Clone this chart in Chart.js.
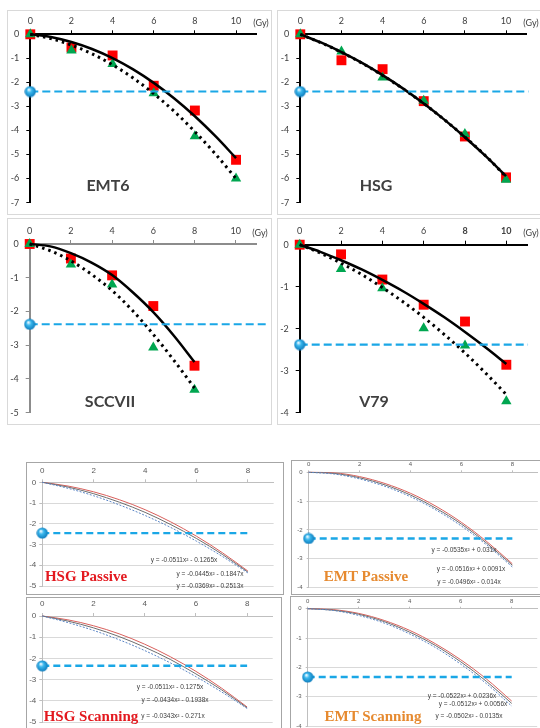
<!DOCTYPE html>
<html>
<head>
<meta charset="utf-8">
<script src="https://cdn.jsdelivr.net/npm/chart.js@4.4.0/dist/chart.umd.min.js"></script>
<style>
  body { margin: 0; background: #fff; width: 540px; height: 728px; position: relative; overflow: hidden; }
  .frame { position: absolute; border: 1px solid #d9d9d9; box-sizing: border-box; }
  canvas { position: absolute; }
  .lbl { position: absolute; white-space: nowrap; transform: translate(-50%, -50%); }
  .name { font: bold 16px Lato, sans-serif; color: #404040; }
  .gy { font: 9px Lato, sans-serif; color: #404040; }
  .title { font: bold 15px "Liberation Serif", serif; }
  .eq { font: 6.5px "Liberation Sans", sans-serif; color: #404040; }
</style>
</head>
<body>
<script>
// top panels: ln(survival) vs dose (Gy)
var dose = [0, 2, 4, 6, 8, 10];
var doseFit = [0, 1, 2, 3, 4, 5, 6, 7, 8, 9, 10];
var emt6Sq = [0, -0.55, -0.88, -2.14, -3.17, -5.22];
var emt6Tri = [0, -0.67, -1.24, -2.45, -4.24, -6.0];
var emt6FitSq = [0, -0.11, -0.32, -0.61, -0.99, -1.46, -2.02, -2.67, -3.41, -4.24, -5.15];
var emt6FitTri = [0, -0.18, -0.45, -0.81, -1.27, -1.82, -2.47, -3.21, -4.05, -4.98, -6.0];

var hsgSq = [0, -1.08, -1.45, -2.78, -4.25, -5.95];
var hsgTri = [0, -0.72, -1.8, -2.76, -4.15, -6.05];
var hsgFitSq = [0, -0.34, -0.74, -1.19, -1.7, -2.26, -2.88, -3.55, -4.28, -5.06, -5.9];
var hsgFitTri = [0, -0.35, -0.75, -1.2, -1.71, -2.27, -2.88, -3.55, -4.27, -5.05, -5.92];

var sccDose = [0, 2, 4, 6, 8];
var sccDoseFit = [0, 1, 2, 3, 4, 5, 6, 7, 8];
var sccSq = [0, -0.43, -0.93, -1.84, -3.61];
var sccTri = [0, -0.61, -1.2, -3.07, -4.32];
var sccFitSq = [0, -0.07, -0.27, -0.55, -0.92, -1.43, -2.02, -2.72, -3.5];
var sccFitTri = [0, -0.2, -0.5, -0.9, -1.38, -1.98, -2.68, -3.45, -4.27];

var v79Sq = [0, -0.23, -0.83, -1.43, -1.83, -2.86];
var v79Tri = [0, -0.58, -1.04, -1.99, -2.4, -3.73];
var v79FitSq = [0, -0.17, -0.37, -0.59, -0.84, -1.11, -1.41, -1.73, -2.08, -2.45, -2.84];
var v79FitTri = [0, -0.2, -0.44, -0.71, -1.02, -1.36, -1.73, -2.14, -2.58, -3.06, -3.57];

var isoLevel = -2.38;

// bottom panels: fitted curves 0..8
var depth = [0, 1, 2, 3, 4, 5, 6, 7, 8];
var hsgPasRed = [0, -0.18, -0.46, -0.84, -1.32, -1.91, -2.6, -3.39, -4.28];
var hsgPasGrey = [0, -0.23, -0.55, -0.96, -1.45, -2.04, -2.71, -3.47, -4.33];
var hsgPasBlue = [0, -0.29, -0.65, -1.09, -1.6, -2.18, -2.84, -3.57, -4.37];
var hsgScanRed = [0, -0.18, -0.46, -0.84, -1.33, -1.92, -2.61, -3.4, -4.29];
var hsgScanGrey = [0, -0.24, -0.56, -0.97, -1.47, -2.05, -2.73, -3.48, -4.33];
var hsgScanBlue = [0, -0.31, -0.68, -1.12, -1.63, -2.21, -2.86, -3.58, -4.36];
var emtPasRed = [0, -0.02, -0.15, -0.39, -0.73, -1.18, -1.74, -2.41, -3.18];
var emtPasGrey = [0, -0.04, -0.19, -0.44, -0.79, -1.25, -1.8, -2.47, -3.23];
var emtPasBlue = [0, -0.06, -0.23, -0.49, -0.85, -1.31, -1.87, -2.53, -3.29];
var emtScanRed = [0, -0.03, -0.16, -0.4, -0.74, -1.19, -1.74, -2.39, -3.15];
var emtScanGrey = [0, -0.05, -0.19, -0.44, -0.8, -1.25, -1.81, -2.47, -3.23];
var emtScanBlue = [0, -0.06, -0.23, -0.49, -0.86, -1.32, -1.89, -2.55, -3.32];

var levelHsgPas = -2.45, levelEmtPas = -2.3, levelHsgScan = -2.35, levelEmtScan = -2.33;

function pts(xs, ys) { return xs.map(function (x, i) { return { x: x, y: ys[i] }; }); }

// shiny blue ball for the reference marker
var ball = document.createElement('canvas');
ball.width = ball.height = 12;
(function () {
  var c = ball.getContext('2d');
  var g = c.createRadialGradient(4.5, 4, 0.5, 6, 6, 6);
  g.addColorStop(0, '#e8f7ff');
  g.addColorStop(0.35, '#3ab8ee');
  g.addColorStop(1, '#0a77b8');
  c.fillStyle = g;
  c.beginPath(); c.arc(6, 6, 5.6, 0, Math.PI * 2); c.fill();
})();

function refSets(level, xEnd, dash, width) {
  return [
    { data: [{ x: 0, y: level }], pointStyle: ball, showLine: false },
    { data: [{ x: 0, y: level }, { x: xEnd, y: level }], showLine: true, pointRadius: 0,
      borderColor: '#1aa7e6', borderWidth: width, borderDash: dash }
  ];
}

function panel(p) {
  var f = document.createElement('div');
  f.className = 'frame';
  f.style.left = p.box[0] + 'px'; f.style.top = p.box[1] + 'px';
  f.style.width = p.box[2] + 'px'; f.style.height = p.box[3] + 'px';
  f.style.borderColor = p.frame;
  document.body.appendChild(f);
  var cv = document.createElement('canvas');
  cv.width = p.box[2]; cv.height = p.box[3];
  cv.style.left = p.box[0] + 'px'; cv.style.top = p.box[1] + 'px';
  document.body.appendChild(cv);

  var a = p.area; // x0, y0, x1, y1 in page pixels
  p.datasets.forEach(function (d) { d.clip = false; });
  new Chart(cv, {
    type: 'scatter',
    data: { datasets: p.datasets },
    options: {
      responsive: false, animation: false, events: [],
      layout: { padding: { left: 0, top: 0, right: p.box[0] + p.box[2] - a[2], bottom: p.box[1] + p.box[3] - a[3] } },
      plugins: { legend: { display: false }, tooltip: { enabled: false } },
      elements: { line: { cubicInterpolationMode: 'monotone', fill: false } },
      scales: {
        x: {
          type: 'linear', position: 'top', min: 0, max: p.xMax,
          afterBuildTicks: function (s) { s.ticks = s.ticks.filter(function (t) { return t.value <= p.xLast; }); },
          afterFit: function (s) { s.height = a[1] - p.box[1]; },
          ticks: { stepSize: 2, autoSkip: false, maxRotation: 0, padding: p.xPad, color: p.tickColor,
                   font: function (c) {
                     var bold = p.boldFrom !== undefined && c.tick && c.tick.value >= p.boldFrom;
                     return { family: p.font, size: p.fontSize, weight: bold ? 'bold' : 'normal' };
                   } },
          grid: { drawOnChartArea: false, tickLength: p.tickLen, color: p.axisColor },
          border: { color: p.axisColor, width: p.axisWidth }
        },
        y: {
          min: p.yMin, max: 0,
          afterFit: function (s) { s.width = a[0] - p.box[0]; },
          ticks: { stepSize: 1, padding: p.yPad, color: p.tickColor, font: { family: p.font, size: p.fontSize } },
          grid: { drawOnChartArea: !!p.gridColor, color: p.gridColor || p.axisColor,
                  tickColor: p.axisColor, tickLength: p.tickLen },
          border: { color: p.axisColor, width: p.axisWidth }
        }
      }
    }
  });
}

function topSets(xs, sq, tri, xf, fitSq, fitTri, xEnd) {
  return refSets(isoLevel, xEnd, [8, 4], 2.2).concat([
    { data: pts(xf, fitSq), showLine: true, pointRadius: 0, borderColor: '#000', borderWidth: 2.5 },
    { data: pts(xf, fitTri), showLine: true, pointRadius: 0, borderColor: '#000', borderWidth: 3, borderDash: [2.5, 4] },
    { data: pts(xs, tri), pointStyle: 'triangle', radius: 6, backgroundColor: '#00a650', borderWidth: 0 },
    { data: pts(xs, sq), pointStyle: 'rect', radius: 7, backgroundColor: '#ff0000', borderWidth: 0 }
  ]);
}

function bottomSets(level, red, grey, blue) {
  return refSets(level, 8, [7, 4], 2.4).concat([
    { data: pts(depth, blue), showLine: true, pointRadius: 0, borderColor: '#5b86c6', borderWidth: 1, borderDash: [2, 1.5] },
    { data: pts(depth, grey), showLine: true, pointRadius: 0, borderColor: '#6e6e6e', borderWidth: 1 },
    { data: pts(depth, red), showLine: true, pointRadius: 0, borderColor: '#d9605c', borderWidth: 1 }
  ]);
}

var topStyle = { frame: '#d9d9d9', xMax: 11, xLast: 10, font: 'Lato', fontSize: 9, tickColor: '#404040',
                 tickLen: 4, xPad: 4, yPad: 7, axisColor: '#000', axisWidth: 2 };
function topPanel(extra) { return Object.assign({}, topStyle, extra); }

panel(topPanel({ box: [7, 10, 265, 205], area: [30.3, 34.3, 256.6, 203.7], yMin: -7,
  datasets: topSets(dose, emt6Sq, emt6Tri, doseFit, emt6FitSq, emt6FitTri, 11.55) }));
panel(topPanel({ box: [277, 10, 270, 205], area: [300.3, 34.3, 526.6, 204], yMin: -7,
  datasets: topSets(dose, hsgSq, hsgTri, doseFit, hsgFitSq, hsgFitTri, 11.1) }));
panel(topPanel({ box: [7, 218, 265, 207], area: [29.7, 244, 256.3, 413.5], yMin: -5, axisColor: '#8c8c8c',
  datasets: topSets(sccDose, sccSq, sccTri, sccDoseFit, sccFitSq, sccFitTri, 11.6) }));
panel(topPanel({ box: [277, 218, 270, 207], area: [299.7, 244.7, 527, 413], yMin: -4, boldFrom: 8,
  datasets: topSets(dose, v79Sq, v79Tri, doseFit, v79FitSq, v79FitTri, 11.05) }));

var botStyle = { frame: '#a6a6a6', xMax: 9, xLast: 8, font: 'Liberation Sans', tickColor: '#595959',
                 axisColor: '#bfbfbf', axisWidth: 1, gridColor: '#d9d9d9', tickLen: 3 };
function botPanel(extra) { return Object.assign({}, botStyle, extra); }

panel(botPanel({ box: [26, 462, 258, 133], area: [42.3, 482.3, 273.6, 586], yMin: -5, fontSize: 8, xPad: 4, yPad: 3,
  datasets: bottomSets(levelHsgPas, hsgPasRed, hsgPasGrey, hsgPasBlue) }));
panel(botPanel({ box: [291, 460, 260, 135], area: [308.7, 472.3, 537.8, 589.6], yMin: -4, fontSize: 6, xPad: 2, yPad: 4,
  tickLen: 2, datasets: bottomSets(levelEmtPas, emtPasRed, emtPasGrey, emtPasBlue) }));
panel(botPanel({ box: [26, 597, 256, 140], area: [42.3, 616, 272.7, 722], yMin: -5, fontSize: 8, xPad: 4, yPad: 3,
  datasets: bottomSets(levelHsgScan, hsgScanRed, hsgScanGrey, hsgScanBlue) }));
panel(botPanel({ box: [290, 596, 260, 140], area: [307.7, 608.7, 537.2, 726], yMin: -4, fontSize: 6, xPad: 2, yPad: 4,
  tickLen: 2, datasets: bottomSets(levelEmtScan, emtScanRed, emtScanGrey, emtScanBlue) }));

// text labels
var labels = [
  ['name', 'EMT6', 108, 184], ['name', 'HSG', 376, 184], ['name', 'SCCVII', 110, 400], ['name', 'V79', 374, 400],
  ['gy', '(Gy)', 261, 22], ['gy', '(Gy)', 531, 22], ['gy', '(Gy)', 260, 232], ['gy', '(Gy)', 531, 232],
  ['title', 'HSG Passive', 86, 576, '#e3191f'], ['title', 'EMT Passive', 366, 576, '#e68a30'],
  ['title', 'HSG Scanning', 91, 716, '#e3191f'], ['title', 'EMT Scanning', 373, 716, '#e68a30'],
  ['eq', 'y = -0.0511x² - 0.1265x', 184, 559], ['eq', 'y = -0.0445x² - 0.1847x', 210, 573],
  ['eq', 'y = -0.0369x² - 0.2513x', 210, 585],
  ['eq', 'y = -0.0535x² + 0.031x', 464, 549], ['eq', 'y = -0.0516x² + 0.0091x', 471, 568],
  ['eq', 'y = -0.0496x² - 0.014x', 469, 581],
  ['eq', 'y = -0.0511x² - 0.1275x', 170, 686], ['eq', 'y = -0.0434x² - 0.1938x', 175, 699],
  ['eq', 'y = -0.0343x² - 0.271x', 173, 715],
  ['eq', 'y = -0.0522x² + 0.0236x', 462, 695], ['eq', 'y = -0.0512x² + 0.0056x', 473, 703],
  ['eq', 'y = -0.0502x² - 0.0135x', 469, 715]
];
labels.forEach(function (l) {
  var d = document.createElement('div');
  d.className = 'lbl ' + l[0];
  d.textContent = l[1];
  d.style.left = l[2] + 'px'; d.style.top = l[3] + 'px';
  if (l[4]) d.style.color = l[4];
  document.body.appendChild(d);
});
</script>
</body>
</html>
